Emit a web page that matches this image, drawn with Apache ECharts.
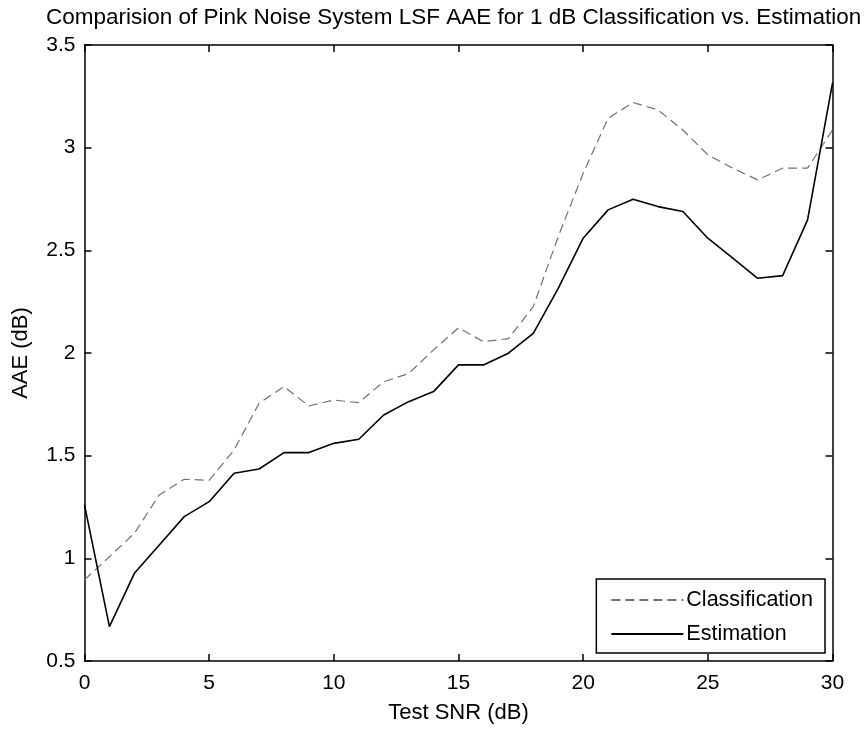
<!DOCTYPE html>
<html><head><meta charset="utf-8">
<script src="https://cdn.jsdelivr.net/npm/echarts@6/dist/echarts.min.js"></script>
<style>html,body{margin:0;padding:0;background:#fff}#c{width:867px;height:729px}</style>
</head><body><div id="c"></div>
<script>
const snr = [0,1,2,3,4,5,6,7,8,9,10,11,12,13,14,15,16,17,18,19,20,21,22,23,24,25,26,27,28,29,30];
const classification = [0.895,1.008,1.122,1.309,1.385,1.38,1.528,1.755,1.836,1.742,1.771,1.758,1.86,1.90,2.015,2.123,2.055,2.07,2.226,2.567,2.875,3.143,3.22,3.184,3.086,2.965,2.90,2.843,2.90,2.90,3.086];
const estimation = [1.26,0.667,0.927,1.065,1.203,1.276,1.414,1.435,1.515,1.515,1.56,1.58,1.698,1.763,1.812,1.942,1.942,1.999,2.096,2.315,2.559,2.697,2.749,2.713,2.689,2.559,2.462,2.364,2.377,2.648,3.314];
const xTicks = [0,5,10,15,20,25,30];
const yTicks = [0.5,1,1.5,2,2.5,3,3.5];
const titleText = 'Comparision of Pink Noise System LSF AAE for 1 dB Classification vs. Estimation';

const FONT = 'Liberation Sans';
const chart = echarts.init(document.getElementById('c'), null, {renderer:'canvas'});
const axisCommon = {
  axisLine:{show:true, onZero:false, lineStyle:{color:'#000', width:1.5}},
  axisTick:{show:true, inside:true, length:7, lineStyle:{color:'#000', width:1.5}},
  splitLine:{show:false}
};
chart.setOption({
  animation:false,
  backgroundColor:'#fff',
  title:{text:titleText, left:41, top:1, textStyle:{fontFamily:FONT, fontSize:22.5, fontWeight:'normal', color:'#000'}},
  grid:{left:84.5, right:34.5, top:45, bottom:68, show:false},
  legend:{
    orient:'vertical', right:42, bottom:76, itemWidth:72, itemHeight:14, itemGap:12,
    borderColor:'#000', borderWidth:1.5, padding:[10,12,8,14],
    itemStyle:{opacity:0},
    textStyle:{fontFamily:FONT, fontSize:21.5, color:'#000', padding:[0,0,0,-2]},
    data:['Classification','Estimation']
  },
  xAxis:[
    Object.assign({type:'value', min:0, max:30, interval:5, position:'bottom',
      name:'Test SNR (dB)', nameLocation:'middle', nameGap:41,
      nameTextStyle:{fontFamily:FONT, fontSize:22, color:'#000'},
      axisLabel:{fontFamily:FONT, fontSize:21, color:'#000', margin:12,
        formatter:v=>xTicks.includes(v)?String(v):''}}, axisCommon),
    Object.assign({type:'value', min:0, max:30, interval:5, position:'top', axisLabel:{show:false}}, axisCommon)
  ],
  yAxis:[
    Object.assign({type:'value', min:0.5, max:3.5, interval:0.5, position:'left',
      name:'AAE (dB)', nameLocation:'middle', nameGap:53, nameRotate:90,
      nameTextStyle:{fontFamily:FONT, fontSize:22, color:'#000'},
      axisLabel:{fontFamily:FONT, fontSize:21, color:'#000', margin:9,
        formatter:v=>yTicks.includes(v)?String(v):''}}, axisCommon),
    Object.assign({type:'value', min:0.5, max:3.5, interval:0.5, position:'right', axisLabel:{show:false}}, axisCommon)
  ],
  series:[
    {name:'Classification', type:'line', symbol:'none', xAxisIndex:0, yAxisIndex:0,
      data:snr.map((x,i)=>[x,classification[i]]),
      lineStyle:{color:'#707070', width:1.2, type:[9,5]}, itemStyle:{color:'#707070'}},
    {name:'Estimation', type:'line', symbol:'none', xAxisIndex:0, yAxisIndex:0,
      data:snr.map((x,i)=>[x,estimation[i]]),
      lineStyle:{color:'#000', width:1.6}, itemStyle:{color:'#000'}}
  ]
});
</script></body></html>
